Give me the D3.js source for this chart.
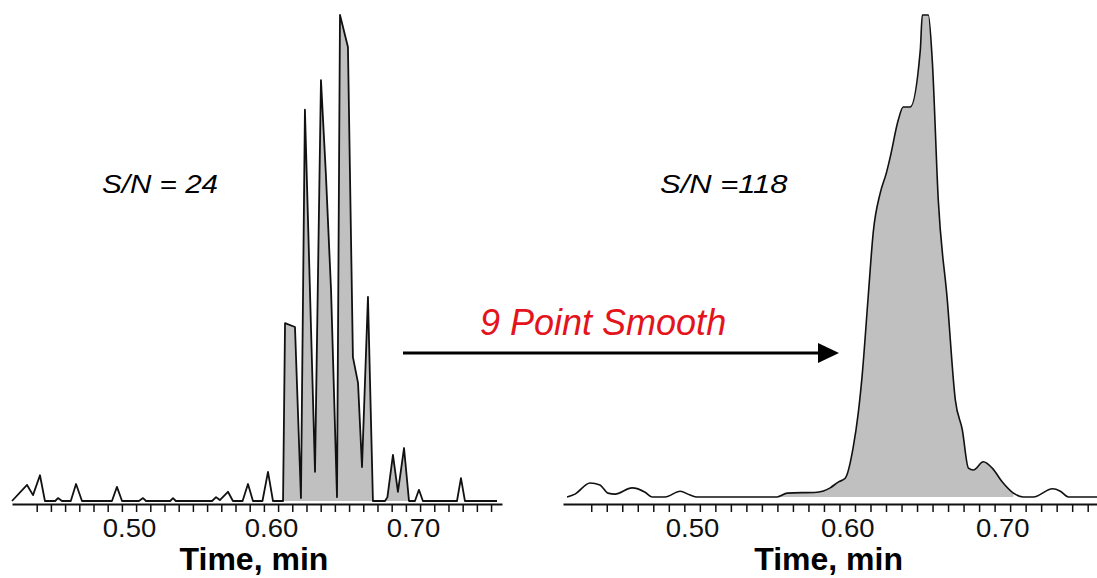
<!DOCTYPE html>
<html>
<head>
<meta charset="utf-8">
<script src="https://cdn.jsdelivr.net/npm/d3@7"></script>
<style>
  body { margin: 0; background: #fff; }
  text { font-family: "Liberation Sans", Arial, sans-serif; }
</style>
</head>
<body>
<div id="chart"></div>
<script>
// raw trace (left), time in min and relative intensity
var rawTime = [0.4176,0.4282,0.4324,0.4373,0.4408,0.4480,0.4500,0.4528,0.4590,0.4627,0.4669,0.4880,0.4915,0.4951,0.5070,0.5099,0.5120,0.5290,0.5310,0.5330,0.5585,0.5613,0.5640,0.5697,0.5732,0.5800,0.5838,0.5873,0.5940,0.5979,0.6014,0.6085,0.6099,0.6169,0.6211,0.6239,0.6310,0.6352,0.6387,0.6423,0.6465,0.6486,0.6542,0.6577,0.6613,0.6641,0.6683,0.6718,0.6803,0.6820,0.6859,0.6894,0.6937,0.6972,0.7014,0.7042,0.7070,0.7310,0.7338,0.7366,0.7592];
var rawIntensity = [0,3.3,1.2,5.3,0,0,0.6,0,0,3.5,0,0,2.9,0,0,0.6,0,0,0.6,0,0,0.8,0.2,1.9,0,0,3.5,0,0,6.0,0,0,36.6,35.8,0.6,80.5,6.0,86.6,67,43.4,0.8,100,93.4,29.6,24.3,7.0,42.0,0,0,0.8,9.5,1.9,10.9,0,0,2.3,0,0,4.7,0,0];
var rawFill = [[0.6085, 0.6718], [0.6803, 0.6972]];

// smoothed trace (right)
var smoothTime = [0.4194,0.4245,0.4342,0.4406,0.4458,0.4503,0.4613,0.4697,0.4742,0.4826,0.4923,0.4987,0.5032,0.5548,0.5613,0.5806,0.5890,0.5942,0.5987,0.6039,0.6071,0.6097,0.6135,0.6168,0.6213,0.6252,0.6277,0.6329,0.6361,0.6406,0.6471,0.6484,0.6523,0.6548,0.6587,0.6645,0.6697,0.6742,0.6781,0.6813,0.6877,0.6935,0.7000,0.7071,0.7135,0.7200,0.7323,0.7374,0.7426,0.7613];
var smoothIntensity = [0,0.6,2.9,2.5,0.8,0.6,1.9,1.0,0,0,1.2,0.4,0,0,0.8,1.0,1.9,3.1,3.9,10.4,17.4,25.5,41.5,55.0,63.1,67.2,70.5,78.2,80.9,80.9,92.7,100,100,90.7,61.6,40.9,20.1,13.9,6.0,5.6,7.3,6.0,3.1,0.8,0,0,1.7,1.2,0,0];
var smoothFill = [[0.5548, 0.7071]];

// axis ticks and labels
var minorTicks = d3.range(0.435, 0.7551, 0.01);
var tickLabels = [0.50, 0.60, 0.70];
var snLabels = ["S/N = 24", "S/N =118"];
var arrowLabel = "9 Point Smooth";
var axisTitle = "Time, min";

var width = 1097, height = 578;

var svg = d3.select("#chart")
  .append("svg")
    .attr("width", width)
    .attr("height", height);

function drawPanel(opts) {
  var data = opts.time.map(function(t, i) { return {t: t, v: opts.values[i]}; });

  var x = d3.scaleLinear().domain(opts.domain).range(opts.range);
  var y = d3.scaleLinear().domain([0, 100]).range([opts.base, 15]);

  var g = svg.append("g");

  // grey filled (integrated) regions
  var area = d3.area()
    .x(function(d) { return x(d.t); })
    .y0(y(0))
    .y1(function(d) { return y(d.v); })
    .curve(opts.curve);
  opts.fill.forEach(function(r) {
    g.append("path")
      .datum(data.filter(function(d) { return d.t >= r[0] - 1e-6 && d.t <= r[1] + 1e-6; }))
      .attr("d", area)
      .style("fill", "#c0c0c0")
      .style("stroke", "none");
  });

  // trace
  var line = d3.line()
    .x(function(d) { return x(d.t); })
    .y(function(d) { return y(d.v); })
    .curve(opts.curve);
  g.append("path")
    .datum(data)
    .attr("d", line)
    .style("fill", "none")
    .style("stroke", "#111")
    .style("stroke-width", opts.lineWidth)
    .style("stroke-linejoin", "round");

  // x axis: ticks
  var axisTicks = g.append("g")
    .attr("transform", "translate(0," + opts.axisY + ")")
    .call(d3.axisBottom(x).tickValues(minorTicks).tickFormat("").tickSize(8).tickSizeOuter(0));
  axisTicks.select(".domain").style("stroke", "#111").style("stroke-width", 2);
  axisTicks.selectAll(".tick line").style("stroke", "#111").style("stroke-width", 1.5);

  // x axis: labels
  var axisLab = g.append("g")
    .attr("transform", "translate(0," + opts.axisY + ")")
    .call(d3.axisBottom(x).tickValues(tickLabels).tickFormat(d3.format(".2f")).tickSize(0).tickPadding(15));
  axisLab.select(".domain").remove();
  axisLab.selectAll("text")
    .style("font-family", "'Liberation Sans', Arial, sans-serif")
    .style("font-size", "25px")
    .style("fill", "#111")
    .attr("transform", "scale(1.1,1)");

  // axis title
  g.append("text")
    .attr("x", x(0.588))
    .attr("y", 570)
    .attr("text-anchor", "middle")
    .style("font-size", "32px")
    .style("font-weight", "bold")
    .style("fill", "#000")
    .text(axisTitle);

  // S/N label
  g.append("text")
    .attr("transform", "translate(" + opts.snX + ",193) scale(" + opts.snScale + ",1)")
    .style("font-size", "26px")
    .style("font-style", "italic")
    .style("fill", "#000")
    .text(opts.sn);
}

drawPanel({
  time: rawTime, values: rawIntensity, fill: rawFill,
  domain: [0.4176, 0.7627], range: [12, 502],
  base: 501, axisY: 504, curve: d3.curveLinear, lineWidth: 1.8,
  sn: snLabels[0], snX: 102, snScale: 1.14
});

drawPanel({
  time: smoothTime, values: smoothIntensity, fill: smoothFill,
  domain: [0.4168, 0.761], range: [563, 1097],
  base: 497, axisY: 504, curve: d3.curveMonotoneX, lineWidth: 1.6,
  sn: snLabels[1], snX: 660, snScale: 1.19
});

// arrow between the panels
svg.append("line")
  .attr("x1", 403).attr("y1", 353)
  .attr("x2", 822).attr("y2", 353)
  .style("stroke", "#000")
  .style("stroke-width", 3);
svg.append("path")
  .attr("d", "M818,343 L839,353 L818,363 Z")
  .style("fill", "#000");

svg.append("text")
  .attr("x", 480)
  .attr("y", 335)
  .style("font-size", "36px")
  .style("font-style", "italic")
  .style("fill", "#e3141b")
  .text(arrowLabel);
</script>
</body>
</html>
